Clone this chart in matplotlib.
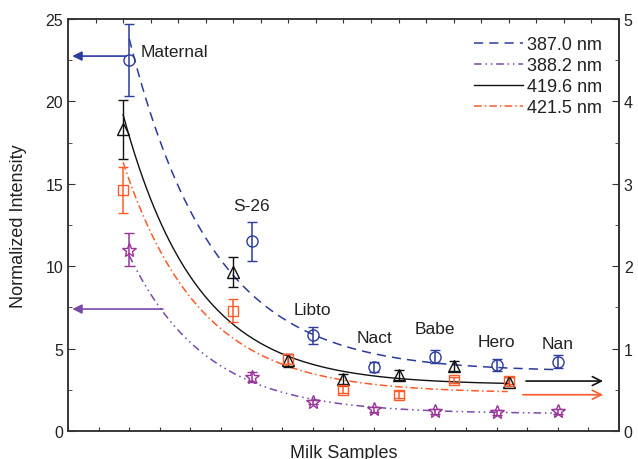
import numpy as np
import matplotlib
matplotlib.use("Agg")
import matplotlib.pyplot as plt
from matplotlib.ticker import MultipleLocator

plt.rcParams['font.family'] = ['Liberation Sans', 'DejaVu Sans']

samples = ['Maternal', 'S-26', 'Libto', 'Nact', 'Babe', 'Hero', 'Nan']
pos = [0, 2, 3, 4, 5, 6, 7]

# 387.0 nm (circles) and 388.2 nm (stars) on the bottom x scale
y387 = [22.5, 11.5, 5.8, 3.9, 4.5, 4.0, 4.2]
e387 = [2.2, 1.2, 0.5, 0.3, 0.4, 0.35, 0.4]
y388 = [11.0, 3.3, 1.76, 1.33, 1.2, 1.15, 1.2]
e388 = [1.0, 0.3, 0.15, 0.15, 0.15, 0.15, 0.15]

# 419.6 nm (triangles) and 421.5 nm (squares) on the top x scale
y419 = [18.3, 9.65, 4.3, 3.15, 3.4, 3.95, 3.0]
e419 = [1.8, 0.9, 0.4, 0.3, 0.3, 0.3, 0.25]
y421 = [14.6, 7.3, 4.37, 2.5, 2.2, 3.1, 3.05]
e421 = [1.4, 0.7, 0.3, 0.2, 0.2, 0.2, 0.2]

# exponential decay fits y = c + A*exp(-k*x)
fit_c = {'387': 3.6, '388': 1.05, '419': 2.8, '421': 2.3}
fit_A = {'387': 20.2, '388': 9.6, '419': 16.4, '421': 14.0}
fit_k = {'387': 0.73, '388': 0.80, '419': 0.75, '421': 0.72}
fit_end = {'387': 6.93, '388': 7.0, '419': 7.0, '421': 6.98}

label_y = [23.0, 13.7, 7.4, 5.7, 6.2, 5.4, 5.3]

blue = '#2b3b9e'
purple = '#7a48a8'
star_c = '#9a3399'
black = '#111111'
red = '#ff5a28'
txt = '#222222'


def fit(key, x):
    return fit_c[key] + fit_A[key] * np.exp(-fit_k[key] * x)


fig = plt.figure(figsize=(6.38, 4.6), dpi=100)
ax = fig.add_axes([0.1066, 0.0609, 0.8636, 0.8956])
axt = ax.twiny()

ax.set_xlim(-1, 8)
axt.set_xlim(-1, 9)
ax.set_ylim(0, 25)

# fitted curves
xs = np.linspace(0, fit_end['387'], 200)
l1, = ax.plot(xs, fit('387', xs), color=blue, lw=1.1, dashes=(6, 4))
xs = np.linspace(0, fit_end['388'], 200)
l2, = ax.plot(xs, fit('388', xs), color=purple, lw=1.1, dashes=(5, 2.5, 1, 2.5, 1, 2.5))
xs = np.linspace(0, fit_end['419'], 200)
l3, = axt.plot(xs, fit('419', xs), color=black, lw=1.0)
xs = np.linspace(0, fit_end['421'], 200)
l4, = axt.plot(xs, fit('421', xs), color=red, lw=1.1, dashes=(5, 2, 1, 2))

# data points with error bars
ax.errorbar(pos, y387, yerr=e387, fmt='o', ms=8, mfc='none', mec=blue,
            color=blue, ecolor=blue, elinewidth=1.1, capsize=3.5, mew=1.0)
ax.errorbar(pos, y388, yerr=e388, fmt='*', ms=10, mfc='none', mec=star_c,
            ecolor=star_c, elinewidth=1.1, capsize=3.5, mew=1.0)
axt.errorbar(pos, y419, yerr=e419, fmt='^', ms=9, mfc='none', mec=black,
             ecolor=black, elinewidth=1.0, capsize=3.5, mew=1.0)
axt.errorbar(pos, y421, yerr=e421, fmt='s', ms=7, mfc='none', mec=red,
             ecolor=red, elinewidth=1.1, capsize=3.5, mew=1.0)

# sample names
for i, (name, ly) in enumerate(zip(samples, label_y)):
    if i == 0:
        ax.text(pos[i] + 0.18, ly, name, fontsize=12.5, color=txt,
                ha='left', va='center')
    else:
        ax.text(pos[i], ly, name, fontsize=12.5, color=txt,
                ha='center', va='center')

# axis arrows
ax.annotate('', xy=(-0.93, 22.75), xytext=(-0.05, 22.75),
            arrowprops=dict(arrowstyle='-|>', color=blue, lw=1.2,
                            mutation_scale=14, shrinkA=0, shrinkB=0))
ax.annotate('', xy=(-0.93, 7.4), xytext=(0.55, 7.4),
            arrowprops=dict(arrowstyle='-|>', color=purple, lw=1.2,
                            mutation_scale=14, shrinkA=0, shrinkB=0))
ax.annotate('', xy=(7.74, 3.03), xytext=(6.48, 3.03),
            arrowprops=dict(arrowstyle='->', color=black, lw=1.2,
                            mutation_scale=16, shrinkA=0, shrinkB=0))
ax.annotate('', xy=(7.74, 2.2), xytext=(6.43, 2.2),
            arrowprops=dict(arrowstyle='->', color=red, lw=1.2,
                            mutation_scale=16, shrinkA=0, shrinkB=0))

# right axis
axr = ax.secondary_yaxis('right', functions=(lambda v: v / 5, lambda v: v * 5))
axr.yaxis.set_major_locator(MultipleLocator(1))
axr.yaxis.set_minor_locator(MultipleLocator(0.5))
axr.tick_params(which='both', direction='in', labelsize=11.5, colors='#333333',
                labelcolor=txt)
axr.tick_params(which='major', length=5)
axr.tick_params(which='minor', length=3)

ax.yaxis.set_major_locator(MultipleLocator(5))
ax.yaxis.set_minor_locator(MultipleLocator(2.5))
ax.xaxis.set_major_locator(MultipleLocator(0.5))
ax.set_xticklabels([])
axt.xaxis.set_major_locator(MultipleLocator(0.5))
axt.set_xticklabels([])
ax.tick_params(axis='y', which='both', direction='in', labelsize=11.5,
               colors='#333333', labelcolor=txt)
ax.tick_params(axis='y', which='major', length=5)
ax.tick_params(axis='y', which='minor', length=3)
ax.tick_params(axis='x', direction='in', length=3, colors='#333333')
axt.tick_params(axis='x', direction='in', length=3, colors='#333333')

for a in (ax, axt):
    for s in a.spines.values():
        s.set_color('#333333')
        s.set_linewidth(1.1)
axr.spines['right'].set_color('#333333')
axr.spines['right'].set_linewidth(1.1)

ax.set_ylabel('Normalized Intensity', fontsize=13, color=txt, labelpad=13)
ax.set_xlabel('Milk Samples', fontsize=13, color=txt, labelpad=6)

leg = ax.legend([l1, l2, l3, l4], ['387.0 nm', '388.2 nm', '419.6 nm', '421.5 nm'],
                loc='upper right', frameon=False, fontsize=13, handlelength=2.7,
                handletextpad=0.2, labelspacing=0.22, borderaxespad=0.55)
for t in leg.get_texts():
    t.set_color(txt)

fig.savefig('out.png', dpi=100)
